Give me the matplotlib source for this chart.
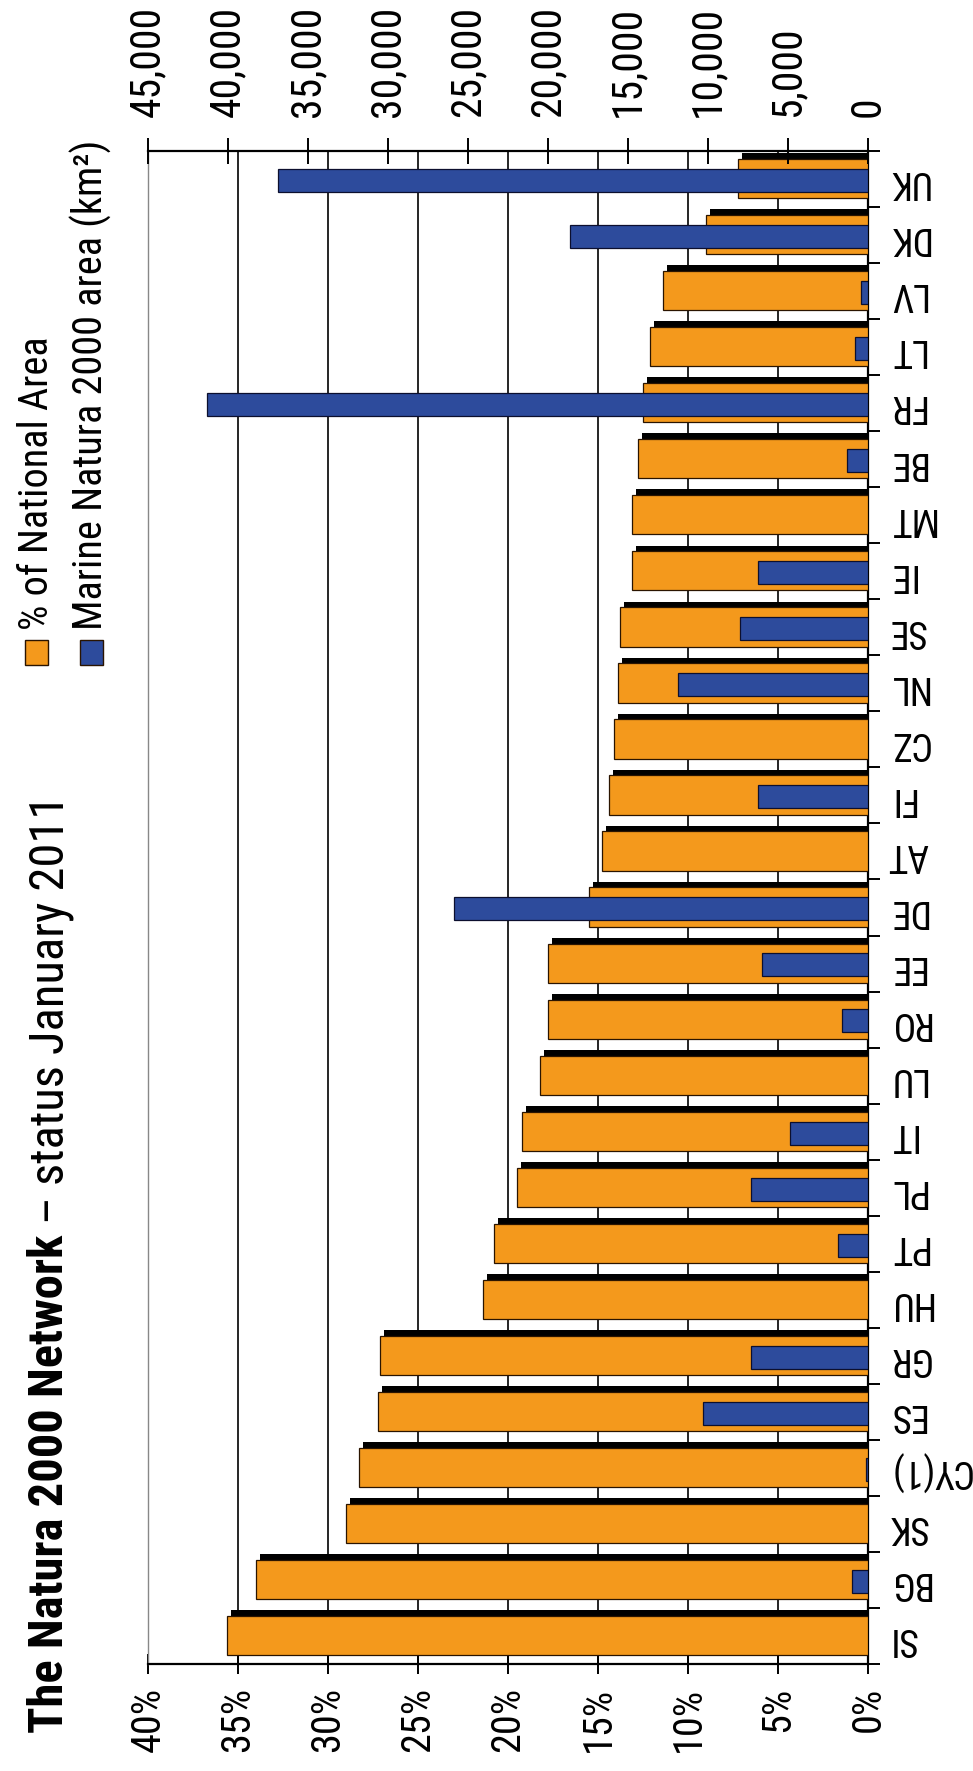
import numpy as np
import matplotlib
matplotlib.use('Agg')
import matplotlib.pyplot as plt
from matplotlib import font_manager
from matplotlib.patches import Rectangle
from matplotlib.ticker import FuncFormatter

# data, listed top to bottom as in the picture
countries = ['UK', 'DK', 'LV', 'LT', 'FR', 'BE', 'MT', 'IE', 'SE', 'NL', 'CZ', 'FI', 'AT', 'DE',
             'EE', 'RO', 'LU', 'IT', 'PL', 'PT', 'HU', 'GR', 'ES', 'CY(1)', 'SK', 'BG', 'SI']
pct_area = [7.2, 9.0, 11.4, 12.1, 12.5, 12.8, 13.1, 13.1, 13.8, 13.9, 14.1, 14.4, 14.8, 15.5,
            17.8, 17.8, 18.2, 19.2, 19.5, 20.8, 21.4, 27.1, 27.2, 28.3, 29.0, 34.0, 35.6]
marine_km2 = [36900, 18600, 450, 800, 41300, 1300, 0, 6900, 8000, 11900, 0, 6900, 0, 25900,
              6600, 1600, 0, 4900, 7300, 1900, 0, 7300, 10300, 100, 0, 1000, 0]
pct_ticks = [0, 5, 10, 15, 20, 25, 30, 35, 40]
km_ticks = [0, 5000, 10000, 15000, 20000, 25000, 30000, 35000, 40000, 45000]

title_bold = 'The Natura 2000 Network'
title_rest = ' \u2013 status January 2011'
legend_labels = ['% of National Area', 'Marine Natura 2000 area (km\u00b2)']

ORANGE = '#f4991c'
BLUE = '#2d4b9c'
EDGE = '#2a1400'

W, H = 973, 1771


def fx(px):
    return px / W


def fy(py):
    return 1 - py / H


# a narrow face if there is one, else Arial-like and smaller
names = {f.name for f in font_manager.fontManager.ttflist}
if 'Liberation Sans Narrow' in names:
    FAMILY, k = 'Liberation Sans Narrow', 1.0
elif 'Roboto Condensed' in names:
    FAMILY, k = 'Roboto Condensed', 1.0
else:
    FAMILY, k = 'Liberation Sans', 0.82
plt.rcParams['font.family'] = [FAMILY, 'DejaVu Sans']

fig = plt.figure(figsize=(W / 100, H / 100), dpi=100)
fig.patch.set_facecolor('white')
ax = fig.add_axes([fx(148), fy(1664), (868 - 148) / W, (1664 - 151) / H])

n = len(countries)
ypos = np.arange(n)[::-1]
pct = np.array(pct_area)
marine = np.array(marine_km2)

# shadow, orange bar
ax.barh(ypos + 0.61, pct - 0.22, height=0.70, color='black', linewidth=0, zorder=2)
ax.barh(ypos + 0.507, pct, height=0.70, color=ORANGE, edgecolor=EDGE, linewidth=0.9, zorder=3)

ax2 = ax.twiny()
has = marine > 0
ax2.barh(ypos[has] + 0.475, marine[has], height=0.41, color=BLUE, edgecolor='#0c0f2e',
         linewidth=0.9, zorder=3)

ax.set_xlim(40, 0)
ax.set_ylim(0, n)
ax2.set_xlim(45000, 0)

# percent axis (bottom)
ax.set_xticks(pct_ticks)
ax.xaxis.set_major_formatter(FuncFormatter(lambda v, p: f'{v:.0f}%'))
ax.set_axisbelow(True)
ax.grid(axis='x', color='black', linewidth=1.2)
ax.xaxis.get_gridlines()[-1].set_visible(False)
ax.tick_params(axis='x', direction='inout', length=14.4, width=1.4, pad=9.4,
               labelsize=29 * k, labelrotation=90)

# km2 axis (top)
ax2.set_xticks(km_ticks)
ax2.xaxis.set_major_formatter(FuncFormatter(lambda v, p: f'{v:,.0f}'))
ax2.tick_params(axis='x', direction='inout', length=19.4, width=1.4, pad=14.8,
                labelsize=30 * k, labelrotation=90)

# countries (right side, upside down)
ax.yaxis.set_ticks_position('right')
ax.set_yticks(np.arange(n + 1))
ax.set_yticks(ypos + 0.45, minor=True)
ax.set_yticklabels(countries, minor=True)
ax.tick_params(axis='y', which='major', direction='out', length=8.6, width=1.4,
               labelright=False, labelleft=False)
ax.tick_params(axis='y', which='minor', length=0, pad=14, labelsize=27 * k,
               labelrotation=180, labelright=True, labelleft=False)
for lbl in ax.get_yticklabels(minor=True):
    lbl.set_va('center')
    lbl.set_ha('left')

for s in ['top', 'bottom', 'right']:
    ax.spines[s].set_color('black')
    ax.spines[s].set_linewidth(1.6)
ax.spines['left'].set_color('#888888')
ax.spines['left'].set_linewidth(1.0)
for s in ax2.spines.values():
    s.set_visible(False)

# title, rotated
t1 = fig.text(fx(63), fy(1733), title_bold, rotation=90, rotation_mode='anchor',
              ha='left', va='baseline', fontsize=35 * k, fontweight='bold')
fig.canvas.draw()
bb = t1.get_window_extent()
fig.text(fx(63), bb.y1 / H, title_rest, rotation=90, rotation_mode='anchor',
         ha='left', va='baseline', fontsize=35 * k)

# legend, rotated
for x_right, col, lab in zip([48, 103], [ORANGE, BLUE], legend_labels):
    fig.add_artist(Rectangle((fx(x_right - 23), fy(665)), 23 / W, 25 / H,
                             transform=fig.transFigure, facecolor=col,
                             edgecolor=EDGE, linewidth=1))
    fig.text(fx(x_right), fy(630), lab, rotation=90, rotation_mode='anchor',
             ha='left', va='baseline', fontsize=29 * k)

fig.savefig('out.png', dpi=100, facecolor='white')
